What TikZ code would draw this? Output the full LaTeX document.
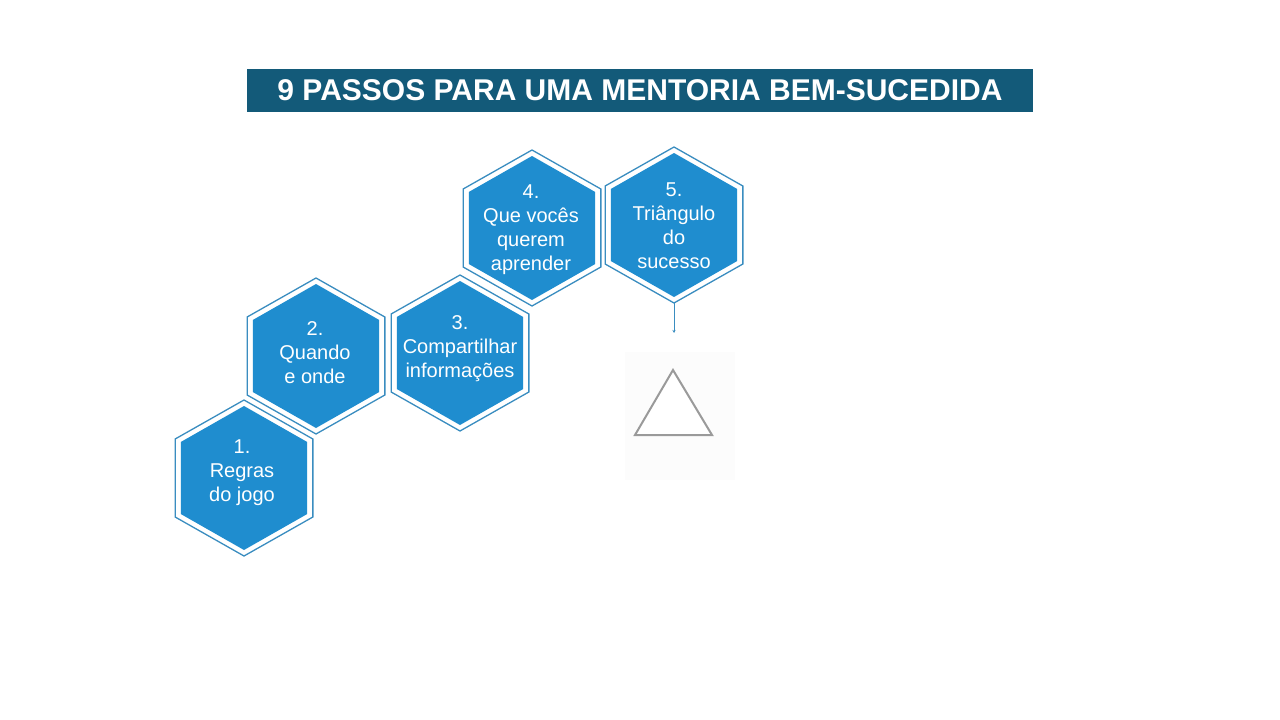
\documentclass[tikz,border=0pt]{standalone}
\usepackage{fontspec}
\setmainfont{Liberation Sans}
\usetikzlibrary{calc,arrows.meta}
\definecolor{titlebg}{HTML}{135A79}
\definecolor{hexfill}{HTML}{1F8DCF}
\definecolor{hexline}{HTML}{3A8DC0}
\definecolor{trigray}{HTML}{9A9A9A}
\tikzset{
  hexout/.style={draw=hexline, line width=1.3pt, fill=white},
  hexin/.style={fill=hexfill},
  hextext/.style={text=white, align=center, font=\fontsize{20}{24}\selectfont, inner sep=0pt},
  titlebox/.style={fill=titlebg, text=white, font=\bfseries\fontsize{30}{32}\selectfont, minimum width=786pt, minimum height=43pt, inner sep=0pt},
  link/.style={draw=hexline, line width=0.9pt, -{Stealth[length=3pt,width=3pt]}},
  tri/.style={draw=trigray, line width=2pt, fill=white, line join=miter}
}
\newcommand{\hexagono}[2]{%
  \begin{scope}[shift={(#2)}]
    \path[hexout] (90:79.5 and 78) -- (150:79.5 and 78) -- (210:79.5 and 78) -- (270:79.5 and 78) -- (330:79.5 and 78) -- (30:79.5 and 78) -- cycle;
    \path[hexin] (90:73 and 72) -- (150:73 and 72) -- (210:73 and 72) -- (270:73 and 72) -- (330:73 and 72) -- (30:73 and 72) -- cycle;
    \coordinate (#1top) at (270:79.5 and 78);
    \coordinate (#1bot) at (90:79.5 and 78);
  \end{scope}%
}
\begin{document}
\begin{tikzpicture}[x=1pt,y=-1pt]
\useasboundingbox (0,0) rectangle (1280,720);
\fill[white] (0,0) rectangle (1280,720);
% title
\node[titlebox] (title) at (640,90) {9 PASSOS PARA UMA MENTORIA BEM-SUCEDIDA};
% hexagons
\hexagono{h1}{244,478}
\hexagono{h2}{316,356}
\hexagono{h3}{460,353}
\hexagono{h4}{532,228}
\hexagono{h5}{674,225}
\node[hextext] (t1) at (242,473) {1.\\Regras\\do jogo};
\node[hextext] (t2) at (315,353) {2.\\Quando\\e onde};
\node[hextext] (t3) at (460,349) {3.\\Compartilhar\\informações};
\node[hextext] (t4) at (531,230) {4.\\Que vocês\\querem\\aprender};
\node[hextext] (t5) at (674,226) {5.\\Triângulo\\do\\sucesso};
% connector
\coordinate (lend) at (674,333);
\draw[link] (h5bot) -- (lend);
% triangle area
\fill[black!1] (625,352) rectangle (735,480);
\coordinate (ta) at (673,370);
\coordinate (tb) at (635,435);
\coordinate (tc) at (712,435);
\path[tri] (ta) -- (tb) -- (tc) -- cycle;
\end{tikzpicture}
\end{document}
